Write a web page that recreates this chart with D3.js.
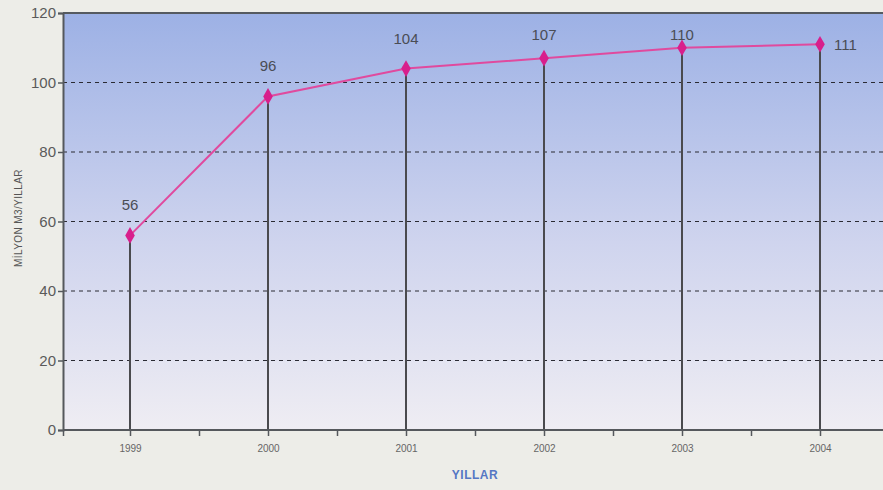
<!DOCTYPE html>
<html><head><meta charset="utf-8">
<script src="https://cdn.jsdelivr.net/npm/d3@7"></script>
<style>
html,body{margin:0;padding:0;background:#ededE8;}
svg{display:block;}
text{font-family:"Liberation Sans",Arial,sans-serif;}
</style></head>
<body><svg id="c" width="883" height="490"></svg>
<script>
const years = [1999, 2000, 2001, 2002, 2003, 2004];
const values = [56, 96, 104, 107, 110, 111];
const yTicks = [0, 20, 40, 60, 80, 100, 120];
const yLabel = "MİLYON M3/YILLAR";
const xLabel = "YILLAR";

const svg = d3.select("#c");
const m = {left: 63, top: 13, bottom: 430, right: 889};
const x = d3.scaleLinear().domain([1999, 2004]).range([130, 820]);
const y = d3.scaleLinear().domain([0, 120]).range([m.bottom, m.top]);

const defs = svg.append("defs");
const g = defs.append("linearGradient").attr("id","bg").attr("x1",0).attr("y1",0).attr("x2",0).attr("y2",1);
g.append("stop").attr("offset","0%").attr("stop-color","#9db1e5");
g.append("stop").attr("offset","55%").attr("stop-color","#cfd4ee");
g.append("stop").attr("offset","100%").attr("stop-color","#efedf3");

svg.append("rect").attr("x", m.left).attr("y", m.top)
  .attr("width", m.right - m.left).attr("height", m.bottom - m.top).attr("fill","url(#bg)");

// grid
svg.append("g").selectAll("line").data(yTicks.filter(d => d > 0 && d < 120)).join("line")
  .attr("x1", m.left).attr("x2", m.right).attr("y1", d => y(d)).attr("y2", d => y(d))
  .attr("stroke","#2a2a33").attr("stroke-width",1.2).attr("stroke-dasharray","4,4");

// top border
svg.append("line").attr("x1", m.left).attr("x2", m.right).attr("y1", m.top).attr("y2", m.top)
  .attr("stroke","#555a60").attr("stroke-width",2);

// drop lines
svg.append("g").selectAll("line").data(years).join("line")
  .attr("x1", d => x(d)).attr("x2", d => x(d))
  .attr("y1", (d,i) => y(values[i])).attr("y2", m.bottom)
  .attr("stroke","#4a4a4e").attr("stroke-width",2);

// y axis
const ya = svg.append("g").attr("transform",`translate(${m.left},0)`)
  .call(d3.axisLeft(y).tickValues(yTicks).tickSize(5).tickPadding(2));
ya.select(".domain").attr("stroke","#55585c").attr("stroke-width",2);
ya.selectAll(".tick line").attr("stroke","#55585c").attr("stroke-width",1.5);
ya.selectAll(".tick text").attr("fill","#5a5a5a").style("font-size","15px");

// x axis
const xTickVals = [x.invert(m.left)].concat(d3.range(1999, 2004.6, 0.5));
const xa = svg.append("g").attr("transform",`translate(0,${m.bottom})`)
  .call(d3.axisBottom(x).tickValues(xTickVals).tickSize(6).tickPadding(9)
    .tickFormat(d => Number.isInteger(d) ? String(d) : ""));
xa.select(".domain").attr("d", `M${m.left},0H${m.right}`).attr("stroke","#55585c").attr("stroke-width",2);
xa.selectAll(".tick line").attr("stroke","#55585c").attr("stroke-width",1.5);
xa.selectAll(".tick text").attr("fill","#666").style("font-size","10px");

// line
svg.append("path").datum(values)
  .attr("fill","none").attr("stroke","#e04a9e").attr("stroke-width",2)
  .attr("d", d3.line().x((d,i) => x(years[i])).y(d => y(d)));

// markers
svg.append("g").selectAll("path").data(values).join("path")
  .attr("transform",(d,i) => `translate(${x(years[i])},${y(d)})`)
  .attr("d", d3.symbol(d3.symbolDiamond, 80)())
  .attr("fill","#d81f8c");

// value labels
const last = values.length - 1;
svg.append("g").selectAll("text").data(values).join("text")
  .attr("x",(d,i) => i === last ? x(years[i]) + 14 : x(years[i]))
  .attr("y",(d,i) => i === last ? y(d) + 6 : Math.max(y(d) - 25, 40))
  .attr("text-anchor",(d,i) => i === last ? "start" : "middle")
  .attr("fill","#4a4d55").style("font-size","15px")
  .text(d => d);

// axis titles
svg.append("text").attr("x", 475).attr("y", 479)
  .attr("text-anchor","middle").attr("fill","#5577c4").style("font-size","12px").style("font-weight","bold")
  .attr("letter-spacing","0.5px")
  .text(xLabel);
svg.append("text").attr("transform",`translate(22,218) rotate(-90)`)
  .attr("text-anchor","middle").attr("fill","#555").style("font-size","10px")
  .attr("letter-spacing","0.4px")
  .text(yLabel);
</script></body></html>
